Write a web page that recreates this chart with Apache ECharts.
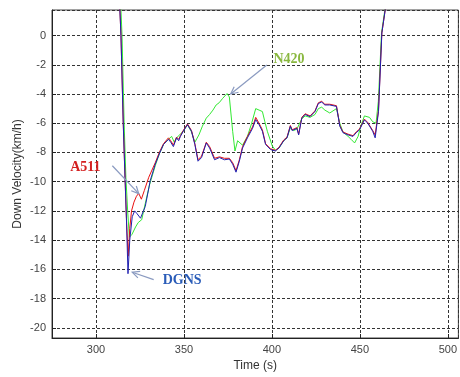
<!DOCTYPE html>
<html><head><meta charset="utf-8">
<script src="https://cdn.jsdelivr.net/npm/echarts@6/dist/echarts.min.js"></script>
<style>html,body{margin:0;padding:0;background:#fff}#c{width:460px;height:377px}</style>
</head><body><div id="c"></div>
<script>
// DGNS (blue)
const dgnsT = [312.5,313.6,314.2,315.5,316.5,317.3,318.2,319.2,320.6,322.0,323.4,325.3,328.0,330.9,333.7,336,338.4,341.2,342.5,344,345.8,347,348,349.6,352,354.3,356.2,358,360,362.7,364.6,367.4,370.2,373,375.8,377.7,379.6,381.5,383.3,386.1,389,390.8,392.7,394.6,396.4,399.2,402,404,406.7,408.6,410.5,411.5,412.4,414.2,415.2,417,418.9,421.7,424.5,426.4,428.3,430.1,432.9,436.7,438.6,440.4,443.3,446.1,447.9,449.8,452.6,454.5,457.3,458.7,460.6,462.5,464.4,465.5];
const dgnsV = [5,1.75,0,-6,-9.7,-12.5,-16.3,-14.0,-12.4,-12.0,-12.2,-12.5,-11.7,-9.9,-8.8,-8.1,-7.45,-7.1,-7.3,-7.6,-7.0,-7.2,-6.9,-6.55,-6.1,-6.55,-7.45,-8.6,-8.35,-7.35,-7.7,-8.5,-8.35,-8.5,-8.45,-8.8,-9.35,-8.6,-7.7,-7.0,-6.35,-5.75,-6.1,-6.55,-7.45,-7.8,-7.9,-7.7,-7.2,-7.0,-6.2,-6.5,-6.45,-6.35,-6.8,-5.65,-5.4,-5.55,-5.2,-4.65,-4.55,-4.75,-4.75,-4.85,-6.2,-6.65,-6.8,-6.9,-6.65,-6.45,-5.77,-6.0,-6.55,-7.0,-5.2,0.18,1.75,5];
// A511 (red)
const a511T = [312.5,313.6,314.2,315.5,316.5,317.4,318.3,319.2,320.2,321.6,323,324.3,325.8,327.5,330,333.7,336,338.4,341.2,342.5,344,345.8,347,348,349.6,352,354.3,356.2,358,360,362.7,364.6,367.4,370.2,373,375.8,377.7,379.6,381.5,383.3,386.1,389,390.8,392.7,394.6,396.4,399.2,402,404,406.7,408.6,410.5,411.5,412.4,414.2,415.2,417,418.9,421.7,424.5,426.4,428.3,430.1,432.9,436.7,438.6,440.4,443.3,446.1,447.9,449.8,452.6,454.5,457.3,458.7,460.6,462.5,464.4,465.5];
const a511V = [5,1.75,0,-6,-9.7,-12.8,-15.1,-13.2,-12.0,-11.4,-11.0,-10.8,-11.2,-10.6,-9.7,-8.7,-8.0,-7.4,-7.0,-7.2,-7.5,-6.95,-7.1,-6.85,-6.5,-6.05,-6.5,-7.4,-8.5,-8.25,-7.3,-7.6,-8.4,-8.3,-8.4,-8.4,-8.7,-9.25,-8.5,-7.6,-6.9,-6.25,-5.6,-6.0,-6.45,-7.4,-7.75,-7.85,-7.65,-7.15,-6.95,-6.15,-6.45,-6.4,-6.3,-6.75,-5.6,-5.35,-5.5,-5.15,-4.6,-4.5,-4.7,-4.7,-4.8,-6.15,-6.6,-6.75,-6.85,-6.6,-6.4,-5.72,-5.95,-6.5,-6.8,-5.1,0.18,1.75,5];
// N420 (green)
const n420T = [313.8,314.2,314.8,316,317,318,319,320.5,322.5,324,326,328,330.5,333.7,336,338.4,341.2,343,344.5,345.8,349.6,352,354.3,356.2,357,358.5,360.5,362.7,364.6,366.5,368.3,370,372,374.5,375.8,377.7,379,380.5,383.3,386.1,388.5,390.8,392.7,394.6,396,397.4,400.2,402,404,406.7,408.6,410.5,412.4,414.2,417,418.9,421.7,424.5,426.4,428.3,430.1,432.9,436.7,438.6,440.4,443.3,445,447,449,450.5,452.6,453.6,455.5,457.3,459.2,460.5,462.3,464.2,465.3];
const n420V = [5,1.75,0,-6,-9.7,-12.0,-13.8,-13.6,-13.1,-12.8,-12.6,-11.5,-10.2,-8.9,-8.1,-7.45,-7.1,-6.9,-7.3,-7.0,-6.55,-6.1,-6.6,-7.3,-7.3,-6.8,-6.2,-5.65,-5.4,-5.1,-4.75,-4.6,-4.3,-3.97,-4.2,-6.55,-7.9,-7.2,-7.5,-6.9,-6.0,-5.0,-5.1,-5.2,-5.9,-6.55,-7.55,-7.85,-7.7,-7.2,-7.0,-6.3,-6.5,-6.4,-5.7,-5.5,-5.6,-5.4,-5.0,-4.9,-5.1,-5.3,-5.0,-6.0,-6.6,-6.9,-7.1,-7.35,-6.9,-6.2,-5.5,-5.45,-5.6,-5.9,-6.0,-4.5,0.18,1.75,5];

// annotations in data coordinates: [labelT, labelV, arrowFromT, arrowFromV, arrowToT, arrowToV]
const annA511 = [294.0,-9.02,309.3,-8.91,324.3,-10.82];
const annN420 = [409.7,-1.62,397.1,-2.02,376.6,-4.0];
const annDGNS = [349.0,-16.77,332.8,-16.7,320.6,-16.2];

const zip = (t,v) => t.map((x,i)=>[x,v[i]]);
const chart = echarts.init(document.getElementById('c'), null, {renderer:'canvas'});
const gridLine = {show:true, lineStyle:{color:'#333', type:[3,2], width:1}};
chart.setOption({
  animation:false,
  grid:{left:52, top:10, width:411, height:333, show:true, borderColor:'#444', borderWidth:1, backgroundColor:'#fff'},
  xAxis:{type:'value', min:275, max:506, splitNumber:5,
    name:'Time (s)', nameLocation:'middle', nameGap:22, nameMoveOverlap:false,
    nameTextStyle:{fontFamily:'Liberation Sans, Arial', fontSize:12, color:'#333'},
    axisLine:{show:true, onZero:false, lineStyle:{color:'#222', width:1}},
    axisTick:{show:true, inside:true, length:4, lineStyle:{color:'#222'}},
    axisLabel:{fontFamily:'Liberation Sans, Arial', fontSize:11, color:'#444', margin:6, showMinLabel:false, showMaxLabel:false,
      formatter:v=> (v%50===0? String(v): '')},
    splitLine:gridLine},
  yAxis:{type:'value', min:-20.7, max:1.75, splitNumber:11,
    name:'Down Velocity(km/h)', nameLocation:'middle', nameGap:28, nameRotate:90, nameMoveOverlap:false,
    nameTextStyle:{fontFamily:'Liberation Sans, Arial', fontSize:12, color:'#333'},
    axisLine:{show:true, onZero:false, lineStyle:{color:'#222', width:1}},
    axisTick:{show:true, inside:true, length:4, lineStyle:{color:'#222'}},
    axisLabel:{fontFamily:'Liberation Sans, Arial', fontSize:11, color:'#444', margin:6, showMinLabel:false, showMaxLabel:false,
      formatter:v=> (Math.abs(v%2)<1e-6? String(v): '')},
    splitLine:gridLine},
  series:[
    {name:'N420', type:'line', data:zip(n420T,n420V), showSymbol:false, clip:true, lineStyle:{color:'#33e833', width:1}, itemStyle:{color:'#33e833'}},
    {name:'A511', type:'line', data:zip(a511T,a511V), showSymbol:false, clip:true, lineStyle:{color:'#e81010', width:1}, itemStyle:{color:'#e81010'}},
    {name:'DGNS', type:'line', data:zip(dgnsT,dgnsV), showSymbol:false, clip:true, lineStyle:{color:'#2020b0', width:1}, itemStyle:{color:'#2020b0'}}
  ]
});

function annot(a, text, color){
  const p = chart.convertToPixel({gridIndex:0}, [a[0],a[1]]);
  const f = chart.convertToPixel({gridIndex:0}, [a[2],a[3]]);
  const t = chart.convertToPixel({gridIndex:0}, [a[4],a[5]]);
  const ang = Math.atan2(t[1]-f[1], t[0]-f[0]);
  const L = 8, s = 0.45;
  const h1 = [t[0]-L*Math.cos(ang-s), t[1]-L*Math.sin(ang-s)];
  const h2 = [t[0]-L*Math.cos(ang+s), t[1]-L*Math.sin(ang+s)];
  return [
    {type:'text', x:p[0], y:p[1], style:{text:text, fill:color, font:'bold 14px "Liberation Serif", "Times New Roman", serif', textAlign:'center', textVerticalAlign:'middle'}, z:100},
    {type:'line', shape:{x1:f[0],y1:f[1],x2:t[0],y2:t[1]}, style:{stroke:'#8a9ac0', lineWidth:1.2}, z:100},
    {type:'polyline', shape:{points:[h1,t,h2]}, style:{stroke:'#8a9ac0', lineWidth:1.2, fill:null}, z:100}
  ];
}
chart.setOption({graphic:[].concat(
  annot(annA511,'A511','#d42020'),
  annot(annN420,'N420','#8ab840'),
  annot(annDGNS,'DGNS','#2a5cb8')
)});
</script></body></html>
